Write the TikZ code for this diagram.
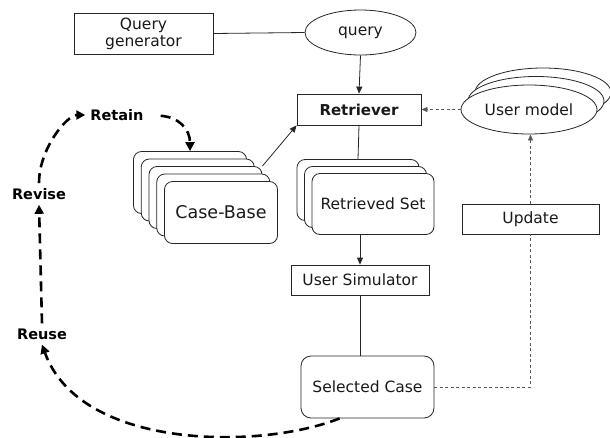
\documentclass[tikz,border=0pt]{standalone}
\usepackage{fontspec}
\setmainfont{DejaVu Sans}
\usetikzlibrary{shapes.geometric,arrows.meta,calc}

\tikzset{
  every node/.style={font=\fontsize{15.5}{17}\selectfont, text=black!90},
  plainbox/.style={draw=black!85, line width=0.8pt, fill=white, inner sep=0pt},
  roundbox/.style={plainbox, rounded corners=8pt},
  oval/.style={draw=black!85, line width=0.8pt, fill=white, ellipse, inner sep=0pt},
  stepname/.style={font=\fontsize{14.5}{16}\bfseries\selectfont, text=black, inner sep=5pt},
  link/.style={draw=black!85, line width=0.8pt},
  linkarrow/.style={link, -{Triangle[length=7pt,width=6pt]}},
  softdash/.style={draw=black!65, line width=0.8pt, dash pattern=on 3pt off 2.5pt},
  cycle/.style={draw=black, line width=2.6pt, dash pattern=on 10pt off 6pt,
                -{Triangle[length=9pt,width=9pt]}},
}

\begin{document}
\begin{tikzpicture}[x=1pt,y=-1pt]
\useasboundingbox (0,0) rectangle (610,437);

% query side
\node[plainbox, minimum width=139pt, minimum height=41pt, align=center]
  (qgen) at (143.5,33.5) {Query\\generator};
\node[oval, minimum width=111pt, minimum height=45pt] (query) at (360.5,32.5) {query};
\node[plainbox, minimum width=124pt, minimum height=31pt,
      font=\fontsize{15}{17}\bfseries\selectfont] (retr) at (359,109.5) {Retriever};

% stacked user models
\node[oval, minimum width=136pt, minimum height=49pt] (um3) at (543,92.5) {};
\node[oval, minimum width=136pt, minimum height=49pt] (um2) at (536,101) {};
\node[oval, minimum width=136pt, minimum height=49pt] (um1) at (529,109.5) {User model};

% case base: five stacked cards
\foreach \k in {4,3,2,1} {
  \node[roundbox, minimum width=113pt, minimum height=62pt]
    (cb\k) at ({221-7.75*\k},{212.5-7.5*\k}) {};
}
\node[roundbox, minimum width=113pt, minimum height=62pt,
      font=\fontsize{17.5}{19}\selectfont] (cb0) at (221,212.5) {Case-Base};

% retrieved set: three stacked cards
\node[roundbox, minimum width=122pt, minimum height=61pt] (rs2) at (358,190) {};
\node[roundbox, minimum width=122pt, minimum height=61pt] (rs1) at (365.5,197) {};
\node[roundbox, minimum width=122pt, minimum height=61pt] (rs0) at (373,204) {Retrieved Set};

\node[plainbox, minimum width=138pt, minimum height=30pt] (usim) at (360,280) {User Simulator};
\node[roundbox, minimum width=133pt, minimum height=62pt, rounded corners=10pt]
  (sel) at (367.5,387) {Selected Case};
\node[plainbox, minimum width=137pt, minimum height=30pt] (upd) at (530.5,219) {Update};

% CBR cycle labels
\node[stepname] (retain) at (117,115) {Retain};
\node[stepname] (revise) at (39,194) {Revise};
\node[stepname] (reuse) at (42,334) {Reuse};

% connectors
\draw[link] (qgen.east) -- (query.west);
\draw[linkarrow] (query.south) -- (retr.north);
\draw[softdash, -{Triangle[length=6pt,width=5pt]}] (um1.west) -- (retr.east);
\draw[linkarrow] (cb2.north east) -- (retr.south west);
\draw[link] (retr.south) -- (rs2.north);
\draw[linkarrow] (usim.north |- rs0.south) -- (usim.north);
\draw[link] (usim.south) -- (usim.south |- sel.north);
\draw[softdash] (sel.east) -- (upd.south |- sel.east) -- (upd.south);
\draw[softdash, -{Triangle[length=6pt,width=5pt]}] (upd.north) -- (upd.north |- um1.south);

% retain / revise / reuse cycle
\coordinate (selfoot) at ($(sel.south west)+(39,0)$);
\draw[cycle, shorten <=12pt] (retain.east) .. controls +(30,2) and +(0,-22) .. (cb4.north);
\draw[cycle] (revise.north) .. controls +(0,-35) and +(-18,0) .. (retain.west);
\draw[cycle] (reuse.north) -- (revise.south);
\draw[cycle] (selfoot) .. controls (260,450) and (80,450) .. (reuse.south);
\end{tikzpicture}
\end{document}
